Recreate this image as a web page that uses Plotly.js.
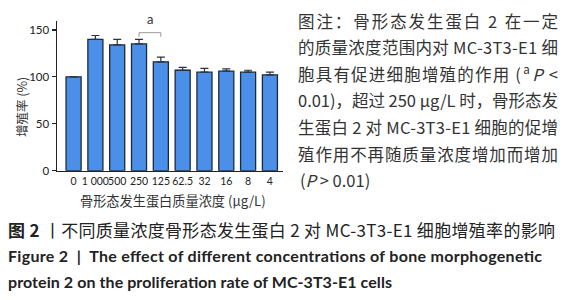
<!DOCTYPE html>
<html>
<head>
<meta charset="utf-8">
<script src="https://cdn.plot.ly/plotly-3.0.1.min.js"></script>
<style>
html,body{margin:0;padding:0;background:#fff;}
#chart{width:574px;height:300px;}
</style>
</head>
<body>
<div id="chart"></div>
<script>
// ---- data ----
const categories = ['0', '1 000', '500', '250', '125', '62.5', '32', '16', '8', '4'];
const proliferation = [100, 140, 134, 135, 116, 107, 105, 106, 105, 102];
const errorUp = [0, 4, 6, 5, 5, 3, 4, 2.5, 2, 3];
const errorDown = [0, 0, 0, 0, 0, 0, 0, 0, 0, 0];
const yTicks = [0, 50, 100, 150];
const sigPair = ['250', '125'];
const sigLabel = 'a';

const noteLines = [
  '图注：骨形态发生蛋白 2 在一定',
  '的质量浓度范围内对 MC-3T3-E1 细',
  '胞具有促进细胞增殖的作用 (<sup>a</sup><i>P</i> <',
  '0.01)，超过 250 μg/L 时，骨形态发',
  '生蛋白 2 对 MC-3T3-E1 细胞的促增',
  '殖作用不再随质量浓度增加而增加',
  '(<i>P</i> > 0.01)'
];
const captionCn = '<b>图 2</b> 丨不同质量浓度骨形态发生蛋白 2 对 MC-3T3-E1 细胞增殖率的影响';
const captionEn1 = '<b>Figure 2\u00a0\u00a0|\u00a0\u00a0The effect of different concentrations of bone morphogenetic</b>';
const captionEn2 = '<b>protein 2 on the proliferation rate of MC-3T3-E1 cells</b>';
const yTitle = '增殖率 (%)';
const xTitle = '骨形态发生蛋白质量浓度 (μg/L)';

// ---- layout helpers (pixel -> paper) ----
const W = 574, H = 300;
const px = v => v / W;
const py = v => 1 - v / H;
const FONT = 'Lato, "Noto Sans CJK SC", sans-serif';
const CJK = '"Noto Sans CJK SC", Lato, sans-serif';
const NOTE_LEFT = 298, NOTE_WIDTH = 260;
const CAPTION_LEFT = 8;
const CAPTION_WIDTHS = [547, 534, 384];

const trace = {
  type: 'bar',
  x: categories,
  y: proliferation,
  marker: {color: '#4b8fe8', line: {color: '#1c2a3c', width: 1.3}},
  error_y: {type: 'data', symmetric: false, array: errorUp, arrayminus: errorDown,
            color: '#2a3340', thickness: 1.2, width: 4},
  hoverinfo: 'skip'
};

const i1 = categories.indexOf(sigPair[0]);
const i2 = categories.indexOf(sigPair[1]);

const annotations = [];
noteLines.forEach((t, k) => {
  annotations.push({xref: 'paper', yref: 'paper', x: px(NOTE_LEFT), y: py(20.5 + k * 26.6),
    xanchor: 'left', yanchor: 'middle', showarrow: false, text: t,
    font: {family: CJK, size: 16.5, color: '#333'}});
});
annotations.push({xref: 'paper', yref: 'paper', x: px(CAPTION_LEFT), y: py(229), xanchor: 'left', yanchor: 'middle',
  showarrow: false, text: captionCn, font: {family: CJK, size: 17, color: '#222'}});
annotations.push({xref: 'paper', yref: 'paper', x: px(CAPTION_LEFT), y: py(255), xanchor: 'left', yanchor: 'middle',
  showarrow: false, text: captionEn1, font: {family: FONT, size: 16, color: '#222'}});
annotations.push({xref: 'paper', yref: 'paper', x: px(CAPTION_LEFT), y: py(281), xanchor: 'left', yanchor: 'middle',
  showarrow: false, text: captionEn2, font: {family: FONT, size: 16, color: '#222'}});
annotations.push({xref: 'paper', yref: 'paper', x: px(21), y: py(107), xanchor: 'center', yanchor: 'middle',
  textangle: -90, showarrow: false, text: yTitle, font: {family: CJK, size: 12.5, color: '#333'}});
annotations.push({xref: 'paper', yref: 'paper', x: px(173), y: py(200), xanchor: 'center', yanchor: 'middle',
  showarrow: false, text: xTitle, font: {family: CJK, size: 13.2, color: '#333'}});
annotations.push({xref: 'x', yref: 'y', x: (i1 + i2) / 2, y: 151, xanchor: 'center', yanchor: 'bottom',
  showarrow: false, text: sigLabel, font: {family: FONT, size: 13, color: '#333'}});

const shapes = [{
  type: 'path', xref: 'x', yref: 'y',
  path: `M ${i1} 142.5 L ${i1} 147 L ${i2} 147 L ${i2} 142.5`,
  line: {color: '#999', width: 1}
}];

const layout = {
  width: W, height: H,
  margin: {l: 0, r: 0, t: 0, b: 0, pad: 0},
  paper_bgcolor: '#fff', plot_bgcolor: '#fff',
  showlegend: false,
  bargap: 0.31,
  xaxis: {
    domain: [px(57), px(283)],
    type: 'category', range: [-0.76, 9.6],
    showline: true, linecolor: '#222', linewidth: 1.5,
    ticks: '', showgrid: false, zeroline: false,
    tickangle: 0, automargin: false,
    tickfont: {family: FONT, size: 10.5, color: '#222'},
    fixedrange: true
  },
  yaxis: {
    domain: [py(170.7), py(20.5)],
    range: [0, 160],
    tickvals: yTicks, ticktext: yTicks.map(String),
    showline: true, linecolor: '#222', linewidth: 1.5,
    ticks: 'outside', ticklen: 4, tickwidth: 1.3, tickcolor: '#222',
    showgrid: false, zeroline: false,
    tickfont: {family: FONT, size: 11.5, color: '#222'},
    fixedrange: true
  },
  annotations: annotations,
  shapes: shapes
};

function fitWidth(el, width, left) {
  el.setAttribute('textLength', width);
  el.setAttribute('lengthAdjust', 'spacing');
  const r = el.getBoundingClientRect();
  const dx = left - r.left;
  const old = el.getAttribute('transform') || '';
  el.setAttribute('transform', old + ' translate(' + dx + ',0)');
}

Plotly.newPlot('chart', [trace], layout, {displayModeBar: false, staticPlot: true}).then(gd => {
  const texts = gd.querySelectorAll('.annotation-text');
  const base = gd.getBoundingClientRect().left;
  // justify the first six note lines to a common width (as in the reference)
  for (let k = 0; k < 6 && k < texts.length; k++) fitWidth(texts[k], NOTE_WIDTH, base + NOTE_LEFT);
  // caption lines
  for (let j = 0; j < 3; j++) {
    const el = texts[noteLines.length + j];
    if (el) fitWidth(el, CAPTION_WIDTHS[j], base + CAPTION_LEFT);
  }
});
</script>
</body>
</html>
